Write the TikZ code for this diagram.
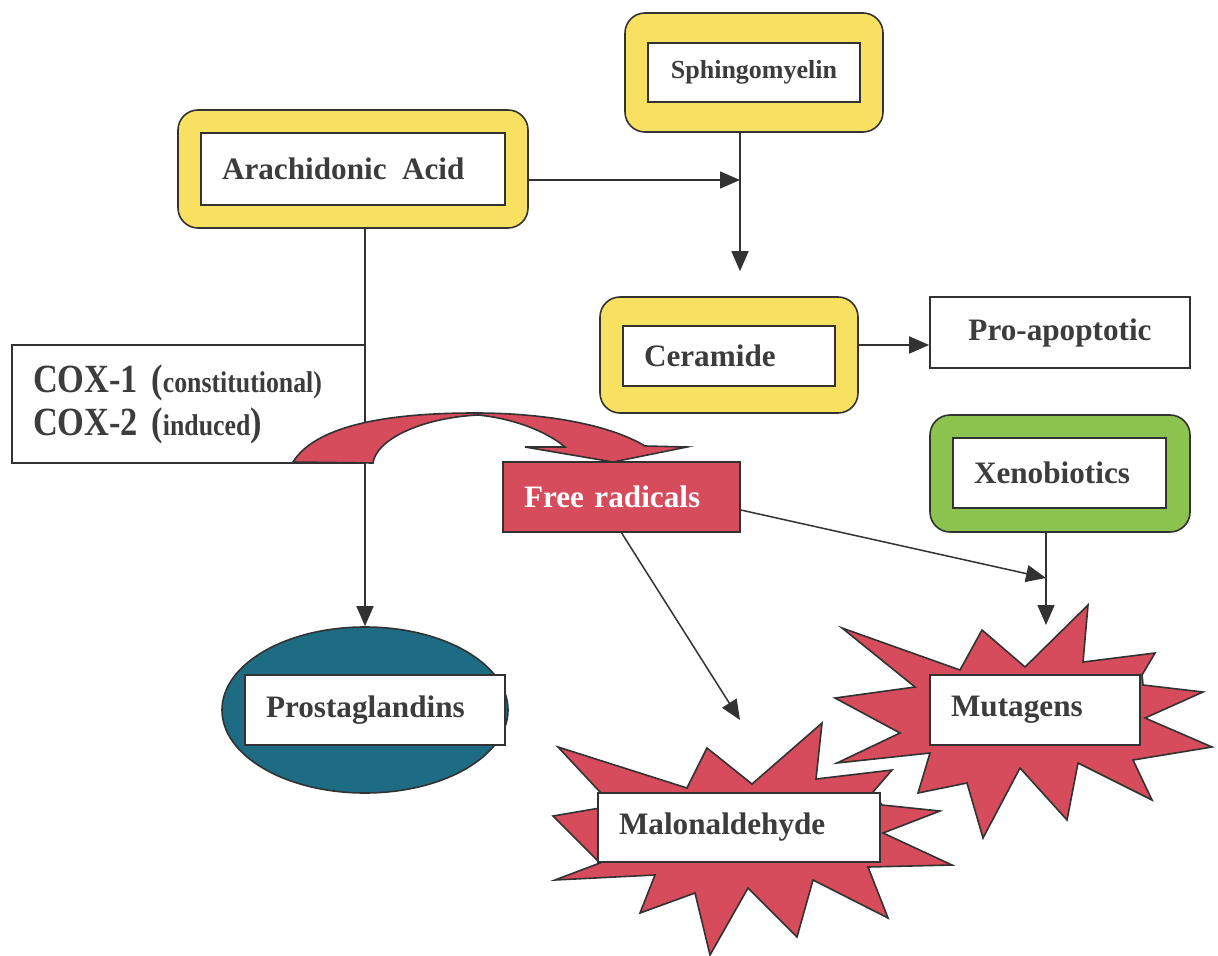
\documentclass[tikz,border=0pt]{standalone}
\usepackage{fontspec}
\setmainfont{Liberation Serif}
\newfontfamily\coxfont[FakeStretch=0.86]{Liberation Serif}
\usetikzlibrary{arrows.meta,shapes.geometric}
\definecolor{frameyellow}{RGB}{248,224,96}
\definecolor{framegreen}{RGB}{140,194,78}
\definecolor{burstred}{RGB}{214,76,92}
\definecolor{tealblue}{RGB}{30,108,132}
\definecolor{linegray}{RGB}{50,50,50}
\definecolor{textgray}{RGB}{60,60,60}
\begin{document}
\begin{tikzpicture}[x=.5pt,y=-.5pt,
    frame/.style={draw=linegray,line width=.8pt,rounded corners=10pt},
    inbox/.style={draw=linegray,line width=.8pt,fill=white,text=textgray,
      inner xsep=10.5pt,inner ysep=0pt,align=left,
      font=\bfseries\fontsize{15.6}{18}\selectfont},
    burst/.style={fill=burstred,draw=linegray,line width=.8pt},
    arr/.style={draw=linegray,line width=.75pt,-{Triangle[length=10pt,width=8.5pt]}}]
  \useasboundingbox (0,0) rectangle (1218,956);

  % outer frames
  \node[frame,fill=frameyellow,minimum width=175pt,minimum height=59pt] (arach) at (353,169) {};
  \node[frame,fill=frameyellow,minimum width=129pt,minimum height=59.5pt] (sphing) at (754,72.5) {};
  \node[frame,fill=frameyellow,minimum width=129pt,minimum height=58pt] (ceram) at (729,355) {};
  \node[frame,fill=framegreen,minimum width=130pt,minimum height=58.5pt] (xeno) at (1060,473.5) {};
  \node[ellipse,fill=tealblue,draw=linegray,line width=.8pt,minimum width=143pt,minimum height=83pt] (prost) at (365,710) {};

  % bursts
  \filldraw[burst] (1088,605) -- (1083,662) -- (1155,653) -- (1142,675) -- (1143,685)
    -- (1203,692) -- (1145,718) -- (1212,747) -- (1133,760) -- (1152,800) -- (1078,763)
    -- (1067,820) -- (1020,768) -- (983,838) -- (967,783) -- (918,793) -- (930,753)
    -- (837,763) -- (900,733) -- (835,698) -- (915,687) -- (842,628) -- (960,670)
    -- (982,630) -- (1025,667) -- cycle;
  \filldraw[burst] (558,747) -- (687,788) -- (707,748) -- (752,784) -- (822,723)
    -- (816,779) -- (892,770) -- (873,792) -- (882,805) -- (940,811) -- (883,833)
    -- (952,865) -- (868,867) -- (888,918) -- (813,880) -- (797,937) -- (748,888)
    -- (710,955) -- (695,893) -- (640,913) -- (655,875) -- (555,880) -- (600,863)
    -- (553,816) -- (600,808) -- (600,792) -- cycle;

  % text boxes
  \node[inbox,text width=131pt,minimum height=36pt] (arachin) at (arach) {Arachidonic\ \hspace{2.5pt}Acid};
  \node[inbox,text width=85pt,minimum height=29.5pt,align=center,
    font=\bfseries\fontsize{13}{15}\selectfont] (sphingin) at (sphing) {Sphingomyelin};
  \node[inbox,text width=85pt,minimum height=30pt] (ceramin) at (729,356) {Ceramide};
  \node[inbox,text width=109pt,minimum height=35.5pt,align=center] (proap) at (1060,332.5) {Pro-apoptotic};
  \node[inbox,text width=85.5pt,minimum height=35pt] (xenoin) at (1059.5,473) {Xenobiotics};
  \node[inbox,fill=burstred,text=white,text width=97.5pt,minimum height=35pt] (frad) at (621.5,497) {Free radicals};
  \node[inbox,text width=109pt,minimum height=35pt] (prostin) at (375,710) {Prostaglandins};
  \node[inbox,text width=120pt,minimum height=34.5pt] (malon) at (739,827.5) {Malonaldehyde};
  \node[inbox,text width=84pt,minimum height=35pt] (mutag) at (1035,710) {Mutagens};
  \node[inbox,text width=155.5pt,minimum height=59pt,
    font=\coxfont\bfseries\fontsize{20}{21.5}\selectfont] (cox) at (188.5,404)
    {COX-1 ({\fontsize{15}{0}\selectfont constitutional)}\\COX-2 ({\fontsize{15}{0}\selectfont induced})};

  \coordinate (join) at (740,180);
  \coordinate (malontop) at (740,720);
  \coordinate (mutagtop) at (1046,625);
  \coordinate (mutagside) at (1046,578);

  % connectors
  \draw[arr] ([yshift=-5.5pt]arach.east) -- (join);
  \draw[arr,shorten >=12.5pt] (sphing.south -| join) -- (ceram.north -| join);
  \draw[arr] ([yshift=5pt]ceram.east) -- ([yshift=5pt]ceram.east -| proap.west);
  \draw[arr] (arach.south -| prost.north) -- (prost.north);
  \draw[arr] (xeno.south -| mutagtop) -- (mutagtop);
  \draw[arr] ([yshift=-6.5pt]frad.east) -- (mutagside);
  \draw[arr] (frad.south) -- (malontop);

  % curved arrow
  \filldraw[burst] (293,462) .. controls (318,422) and (400,413) .. (475,413)
    .. controls (550,413) and (612,426) .. (645,446) -- (687,447) -- (613,462)
    -- (525,447) -- (565,447) .. controls (545,430) and (510,418) .. (478,415)
    .. controls (420,418) and (376,440) .. (373,463) -- cycle;
\end{tikzpicture}
\end{document}
